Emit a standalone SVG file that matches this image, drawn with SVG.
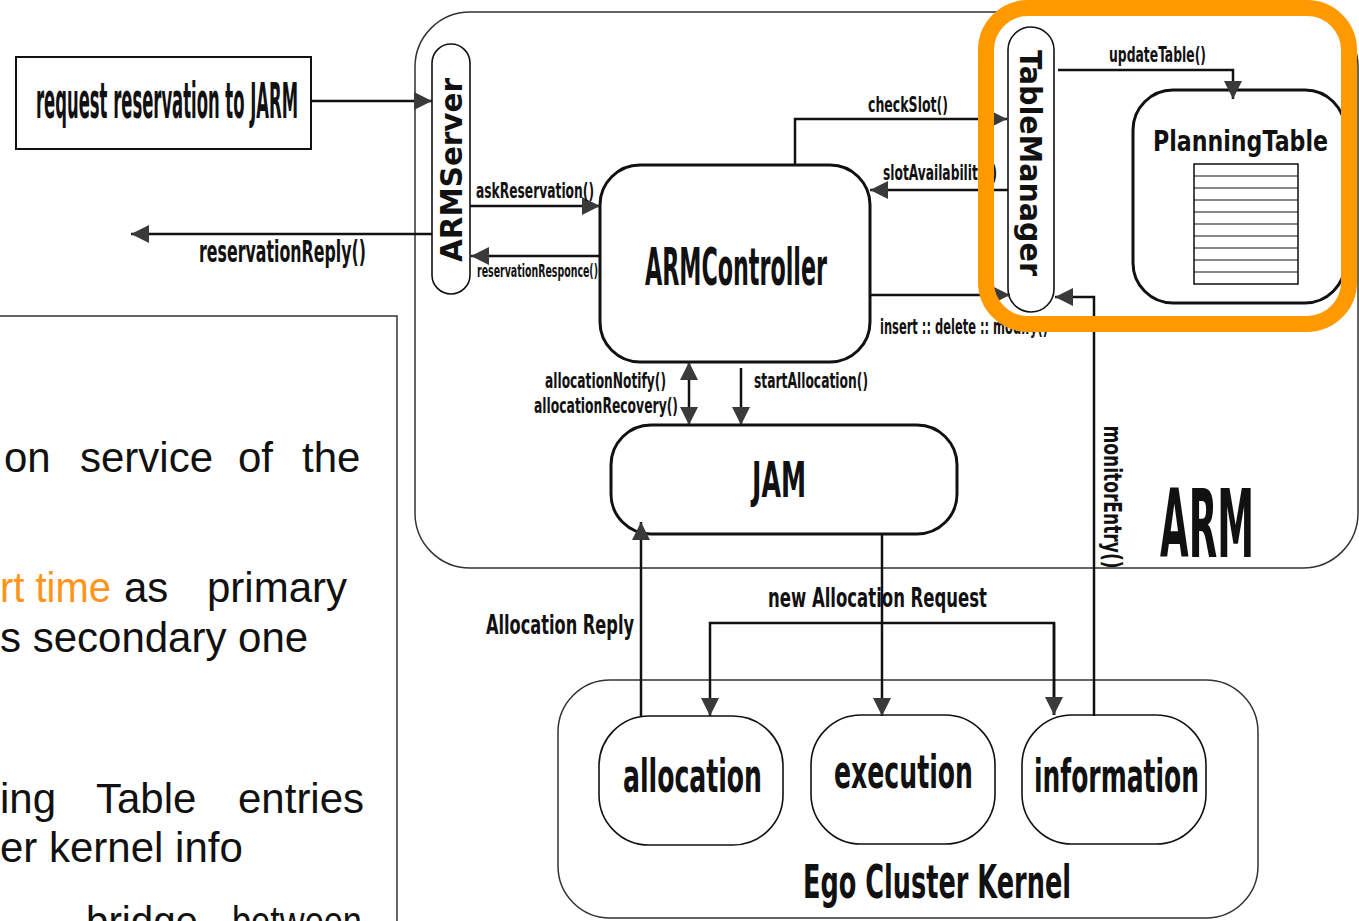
<svg xmlns="http://www.w3.org/2000/svg" width="1359" height="921" viewBox="0 0 1359 921">
  <defs>
    <marker id="ah" markerUnits="userSpaceOnUse" markerWidth="20" markerHeight="20" refX="18" refY="9" orient="auto-start-reverse">
      <path d="M0,0 L18,9 L0,18 z" fill="#3a3a3a"/>
    </marker>
    <style>
      .box { fill: #fff; stroke: #111; }
      .thick { stroke-width: 3; }
      .thin { stroke-width: 1.6; }
      .frame { fill: none; stroke: #333; stroke-width: 1.5; }
      .link { fill: none; stroke: #111; stroke-width: 2.5; }
      .cond { font-family: "DejaVu Sans", "Liberation Sans", sans-serif; font-weight: bold; font-stretch: condensed; fill: #111; }
      .wide { font-family: "DejaVu Sans", "Liberation Sans", sans-serif; font-weight: bold; fill: #111; }
      .body { font-family: "Liberation Sans", Arial, sans-serif; font-size: 42px; fill: #111; }
      .hl { fill: #ff9419; }
    </style>
  </defs>

  <rect width="1359" height="921" fill="#fff"/>

  <!-- side text panel -->
  <g id="notes">
    <path class="frame" d="M0,316 H397 V921"/>
    <text class="body" y="472"><tspan x="4">on</tspan><tspan x="80">service</tspan><tspan x="238">of</tspan><tspan x="302">the</tspan></text>
    <text class="body hl" y="602" x="0" textLength="111" lengthAdjust="spacingAndGlyphs">rt time</text>
    <text class="body" y="602"><tspan x="124">as</tspan><tspan x="207">primary</tspan></text>
    <text class="body" y="652" x="0">s secondary one</text>
    <text class="body" y="813"><tspan x="0">ing</tspan><tspan x="96">Table</tspan><tspan x="238">entries</tspan></text>
    <text class="body" y="862" x="0">er kernel info</text>
    <text class="body" y="936" x="86" textLength="112" lengthAdjust="spacingAndGlyphs">bridge</text>
    <text class="body" y="936" x="232" textLength="130" lengthAdjust="spacingAndGlyphs">between</text>
  </g>

  <!-- ARM container -->
  <g id="arm">
    <rect class="frame" x="415" y="12" width="943" height="556" rx="55"/>
    <text class="cond" x="1160" y="557" font-size="95" textLength="94" lengthAdjust="spacingAndGlyphs">ARM</text>
  </g>

  <!-- Ego cluster kernel container -->
  <g id="kernel">
    <rect class="frame" x="558" y="680" width="700" height="238" rx="52"/>
    <text class="cond" x="803" y="898" font-size="46" textLength="268" lengthAdjust="spacingAndGlyphs">Ego Cluster Kernel</text>
  </g>

  <g id="request">
    <rect class="box" x="16" y="57" width="295" height="92" stroke-width="2"/>
    <text class="cond" x="36" y="118" font-size="50" textLength="262" lengthAdjust="spacingAndGlyphs">request reservation to JARM</text>
  </g>

  <g id="armserver">
    <rect class="box thin" x="432" y="44" width="38" height="250" rx="19"/>
    <text class="wide" transform="translate(451,170) rotate(-90)" x="0" y="11" font-size="30" text-anchor="middle" textLength="184" lengthAdjust="spacingAndGlyphs">ARMServer</text>
  </g>

  <g id="armcontroller">
    <rect class="box thick" x="600" y="165" width="270" height="197" rx="40"/>
    <text class="cond" x="645" y="285" font-size="52" textLength="182" lengthAdjust="spacingAndGlyphs">ARMController</text>
  </g>

  <g id="tablemanager">
    <rect class="box thin" x="1008" y="27" width="46" height="285" rx="23"/>
    <text class="wide" transform="translate(1031,163) rotate(90)" x="0" y="11" font-size="30" text-anchor="middle" textLength="226" lengthAdjust="spacingAndGlyphs">TableManager</text>
  </g>

  <g id="planningtable">
    <rect class="box thick" x="1133" y="90" width="212" height="213" rx="40"/>
    <text class="wide" x="1153" y="151" font-size="28" textLength="175" lengthAdjust="spacingAndGlyphs">PlanningTable</text>
    <rect x="1194" y="164" width="104" height="120" fill="#fff" stroke="#111" stroke-width="1.5"/>
    <path d="M1194,176 H1298 M1194,188 H1298 M1194,200 H1298 M1194,212 H1298 M1194,224 H1298 M1194,236 H1298 M1194,248 H1298 M1194,260 H1298 M1194,272 H1298" stroke="#111" stroke-width="1.2"/>
  </g>

  <g id="jam">
    <rect class="box thick" x="611" y="425" width="346" height="109" rx="40"/>
    <text class="cond" x="752" y="497" font-size="50" textLength="54" lengthAdjust="spacingAndGlyphs">JAM</text>
  </g>

  <g id="allocation">
    <rect class="box thin" x="599" y="716" width="184" height="129" rx="50"/>
    <text class="cond" x="623" y="792" font-size="46" textLength="139" lengthAdjust="spacingAndGlyphs">allocation</text>
  </g>

  <g id="execution">
    <rect class="box thin" x="811" y="715" width="184" height="129" rx="50"/>
    <text class="cond" x="834" y="788" font-size="46" textLength="139" lengthAdjust="spacingAndGlyphs">execution</text>
  </g>

  <g id="information">
    <rect class="box thin" x="1022" y="715" width="184" height="129" rx="50"/>
    <text class="cond" x="1034" y="792" font-size="46" textLength="165" lengthAdjust="spacingAndGlyphs">information</text>
  </g>

  <!-- connectors -->
  <g id="connectors">
    <path class="link" d="M311,101 H432" marker-end="url(#ah)"/>
    <path class="link" d="M432,234 H131" marker-end="url(#ah)"/>
    <path class="link" d="M470,206 H600" marker-end="url(#ah)"/>
    <path class="link" d="M600,256 H471" marker-end="url(#ah)"/>
    <path class="link" d="M795,165 V119 H1007" marker-end="url(#ah)"/>
    <path class="link" d="M1008,190 H870" marker-end="url(#ah)"/>
    <path class="link" d="M870,295 H1010" marker-end="url(#ah)"/>
    <path class="link" d="M1058,70 H1233 V99" marker-end="url(#ah)"/>
    <path class="link" d="M1094,716 V297 H1055" marker-end="url(#ah)"/>
    <path class="link" d="M689,362 V425" marker-start="url(#ah)" marker-end="url(#ah)"/>
    <path class="link" d="M741,368 V425" marker-end="url(#ah)"/>
    <path class="link" d="M641,716 V522" marker-end="url(#ah)"/>
    <path class="link" d="M882,534 V716" marker-end="url(#ah)"/>
    <path class="link" d="M1054,715 V623 H710 V716" marker-end="url(#ah)"/>
    <path class="link" d="M1054,623 V715" marker-end="url(#ah)"/>

    <text class="cond" x="199" y="262" font-size="30" textLength="167" lengthAdjust="spacingAndGlyphs">reservationReply()</text>
    <text class="cond" x="476" y="198" font-size="21" textLength="118" lengthAdjust="spacingAndGlyphs">askReservation()</text>
    <text class="cond" x="477" y="277" font-size="18" textLength="121" lengthAdjust="spacingAndGlyphs">reservationResponce()</text>
    <text class="cond" x="868" y="112" font-size="21" textLength="80" lengthAdjust="spacingAndGlyphs">checkSlot()</text>
    <text class="cond" x="883" y="180" font-size="21" textLength="114" lengthAdjust="spacingAndGlyphs">slotAvailability()</text>
    <text class="cond" x="880" y="334" font-size="21" textLength="168" lengthAdjust="spacingAndGlyphs">insert :: delete :: modify()</text>
    <text class="cond" x="1109" y="62" font-size="21" textLength="97" lengthAdjust="spacingAndGlyphs">updateTable()</text>
    <text class="cond" x="666" y="388" font-size="21" text-anchor="end" textLength="121" lengthAdjust="spacingAndGlyphs">allocationNotify()</text>
    <text class="cond" x="534" y="413" font-size="21" textLength="144" lengthAdjust="spacingAndGlyphs">allocationRecovery()</text>
    <text class="cond" x="754" y="388" font-size="21" textLength="114" lengthAdjust="spacingAndGlyphs">startAllocation()</text>
    <text class="cond" x="486" y="634" font-size="27" textLength="148" lengthAdjust="spacingAndGlyphs">Allocation Reply</text>
    <text class="cond" x="768" y="607" font-size="27" textLength="219" lengthAdjust="spacingAndGlyphs">new Allocation Request</text>
    <text class="cond" transform="translate(1112,497) rotate(90)" x="0" y="8" font-size="24" text-anchor="middle" textLength="143" lengthAdjust="spacingAndGlyphs">monitorEntry()</text>
  </g>

  <!-- highlight frame around table manager and planning table -->
  <g id="highlight">
    <rect x="986" y="8" width="363" height="316" rx="42" fill="none" stroke="#ff9900" stroke-width="16"/>
  </g>
</svg>
